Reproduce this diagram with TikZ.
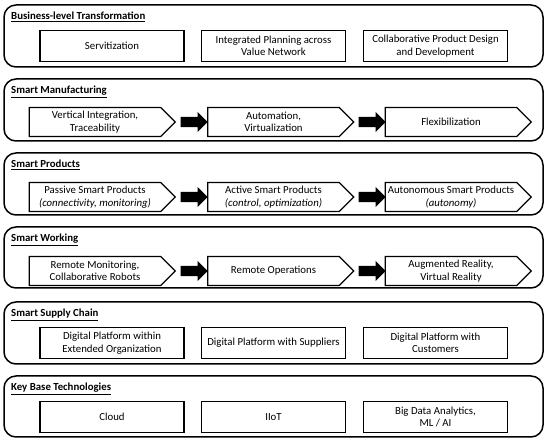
\documentclass[tikz,border=0pt]{standalone}
\usepackage{fontspec}
\setmainfont{Carlito}
\usetikzlibrary{shapes.symbols,shapes.arrows,positioning}

\begin{document}
\begin{tikzpicture}[x=1pt,y=-1pt,line join=miter,font=\fontsize{10.8}{12.5}\selectfont,
  panel/.style={draw,line width=1.5pt,rounded corners=12pt},
  title/.style={anchor=base west,font=\fontsize{10.8}{12.5}\selectfont\bfseries,inner sep=0pt},
  item/.style={draw,line width=1.2pt,minimum width=144pt,minimum height=31pt,align=center,inner sep=1pt},
  chevron/.style={draw,line width=1.2pt,shape=signal,signal to=east,minimum width=146pt,minimum height=29pt,align=center,inner sep=1pt},
  blockarrow/.style={single arrow,fill=black,minimum height=27pt,minimum width=0pt,inner xsep=0pt,inner ysep=5pt,single arrow head extend=5pt}]
  \useasboundingbox (0,0) rectangle (550,443);

  % panels
  \draw[panel] (4,5) rectangle (543,67);
  \draw[panel] (4,79) rectangle (543,141);
  \draw[panel] (4,153) rectangle (543,215);
  \draw[panel] (4,227) rectangle (543,288);
  \draw[panel] (4,302) rectangle (543,364);
  \draw[panel] (4,376) rectangle (543,437);

  % titles
  \node[title] (tbt) at (11,20) {\underline{Business-level Transformation}};
  \node[title] (tsm) at (11,94) {\underline{Smart Manufacturing}};
  \node[title] (tsp) at (11,168) {\underline{Smart Products}};
  \node[title] (tsw) at (11,242) {\underline{Smart Working}};
  \node[title] (tsc) at (11,317) {\underline{Smart Supply Chain}};
  \node[title] (tkb) at (11,391) {\underline{Key Base Technologies}};

  % business-level transformation
  \node[item] (sv) at (112,46) {Servitization};
  \node[item] (ipv) at (273.5,46) {Integrated Planning across\\Value Network};
  \node[item] (cpd) at (435.5,46) {Collaborative Product Design\\and Development};

  % smart manufacturing
  \node[chevron] (vit) at (95,122) {Vertical Integration,\\Traceability};
  \node[chevron] (av) at (273.5,122) {Automation,\\Virtualization};
  \node[chevron] (fl) at (451,122) {Flexibilization};
  \path (vit) -- (av) node[midway,blockarrow] {};
  \path (av) -- (fl) node[midway,blockarrow] {};

  % smart products
  \node[chevron] (psp) at (95,197) {Passive Smart Products\\\textit{(connectivity, monitoring)}};
  \node[chevron] (asp) at (273.5,197) {Active Smart Products\\\textit{(control, optimization)}};
  \node[chevron] (aut) at (451,197) {Autonomous Smart Products\\\textit{(autonomy)}};
  \path (psp) -- (asp) node[midway,blockarrow] {};
  \path (asp) -- (aut) node[midway,blockarrow] {};

  % smart working
  \node[chevron] (rmc) at (95,271) {Remote Monitoring,\\Collaborative Robots};
  \node[chevron] (ro) at (273.5,271) {Remote Operations};
  \node[chevron] (arv) at (451,271) {Augmented Reality,\\Virtual Reality};
  \path (rmc) -- (ro) node[midway,blockarrow] {};
  \path (ro) -- (arv) node[midway,blockarrow] {};

  % smart supply chain
  \node[item] (dpe) at (112,343) {Digital Platform within\\Extended Organization};
  \node[item] (dps) at (273.5,343) {Digital Platform with Suppliers};
  \node[item] (dpc) at (435.5,343) {Digital Platform with\\Customers};

  % key base technologies
  \node[item] (cl) at (112,417) {Cloud};
  \node[item] (iiot) at (273.5,417) {IIoT};
  \node[item] (bda) at (435.5,417) {Big Data Analytics,\\ML / AI};
\end{tikzpicture}
\end{document}
